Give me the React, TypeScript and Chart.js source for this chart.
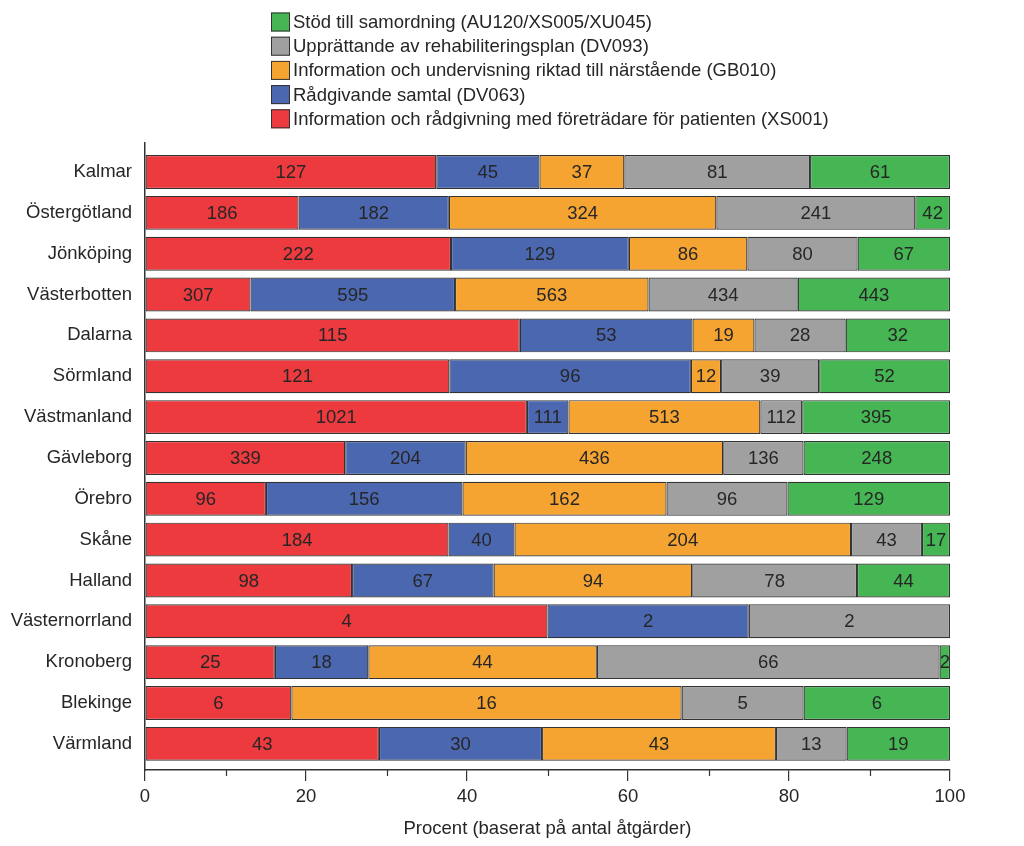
import React, { useEffect, useRef } from 'react';
import { Chart, registerables } from 'chart.js';

Chart.register(...registerables);

const regions = [
  'Kalmar', 'Östergötland', 'Jönköping', 'Västerbotten', 'Dalarna', 'Sörmland', 'Västmanland',
  'Gävleborg', 'Örebro', 'Skåne', 'Halland', 'Västernorrland', 'Kronoberg', 'Blekinge', 'Värmland',
];

const seriesNames = [
  'Information och rådgivning med företrädare för patienten (XS001)',
  'Rådgivande samtal (DV063)',
  'Information och undervisning riktad till närstående (GB010)',
  'Upprättande av rehabiliteringsplan (DV093)',
  'Stöd till samordning (AU120/XS005/XU045)',
];

const informationXS001 = [127, 186, 222, 307, 115, 121, 1021, 339, 96, 184, 98, 4, 25, 6, 43];
const radgivandeDV063 = [45, 182, 129, 595, 53, 96, 111, 204, 156, 40, 67, 2, 18, 0, 30];
const narstaendeGB010 = [37, 324, 86, 563, 19, 12, 513, 436, 162, 204, 94, 0, 44, 16, 43];
const rehabDV093 = [81, 241, 80, 434, 28, 39, 112, 136, 96, 43, 78, 2, 66, 5, 13];
const samordning = [61, 42, 67, 443, 32, 52, 395, 248, 129, 17, 44, 0, 2, 6, 19];

const xMajorTicks = [0, 20, 40, 60, 80, 100];
const xMinorTicks = [10, 30, 50, 70, 90];

const seriesCounts = [informationXS001, radgivandeDV063, narstaendeGB010, rehabDV093, samordning];
const seriesColors = ['#EC3A3E', '#4A67B0', '#F5A432', '#A0A0A0', '#45B653'];

const FONT = '"Liberation Sans", Arial, sans-serif';
const TEXT = '#262626';
const AXIS = '#333333';
const FS = 18.5;

export default function App() {
  const ref = useRef<HTMLCanvasElement | null>(null);

  useEffect(() => {
    document.body.style.margin = '0';
    const canvas = ref.current;
    if (!canvas) return;

    const totals = regions.map((_, i) => seriesCounts.reduce((s, arr) => s + arr[i], 0));

    const datasets = seriesCounts.map((counts, si) => ({
      label: seriesNames[si],
      data: counts.map((c, i) => ({ x: (c / totals[i]) * 100, y: i })),
      counts,
      backgroundColor: seriesColors[si],
      borderColor: AXIS,
      borderWidth: 1.2,
      borderSkipped: false,
      barPercentage: 0.83,
      categoryPercentage: 1,
    }));

    const labelPlugin = {
      id: 'segLabels',
      afterDatasetsDraw(chart: any) {
        const ctx = chart.ctx;
        ctx.save();
        ctx.font = `${FS}px ${FONT}`;
        ctx.fillStyle = TEXT;
        ctx.textAlign = 'center';
        ctx.textBaseline = 'middle';
        chart.data.datasets.forEach((ds: any, di: number) => {
          const meta = chart.getDatasetMeta(di);
          meta.data.forEach((el: any, i: number) => {
            const c = ds.counts[i];
            if (!c) return;
            const cx = (el.x + el.base) / 2;
            ctx.fillText(String(c), cx, el.y + 1);
          });
        });
        ctx.restore();
      },
    };

    const minorTickPlugin = {
      id: 'minorTicks',
      afterDraw(chart: any) {
        const ctx = chart.ctx;
        const xs = chart.scales.x;
        ctx.save();
        ctx.strokeStyle = AXIS;
        ctx.lineWidth = 1.2;
        xMinorTicks.forEach((v) => {
          const px = Math.round(xs.getPixelForValue(v)) + 0.5;
          ctx.beginPath();
          ctx.moveTo(px, xs.top);
          ctx.lineTo(px, xs.top + 6);
          ctx.stroke();
        });
        ctx.restore();
      },
    };

    const legendPlugin = {
      id: 'customLegend',
      afterDraw(chart: any) {
        const ctx = chart.ctx;
        ctx.save();
        ctx.font = `${FS}px ${FONT}`;
        ctx.textBaseline = 'middle';
        ctx.textAlign = 'left';
        const order = [4, 3, 2, 1, 0];
        order.forEach((si, row) => {
          const cy = 22 + row * 24.2;
          ctx.fillStyle = seriesColors[si];
          ctx.fillRect(271, cy - 9.5, 19, 19);
          ctx.strokeStyle = AXIS;
          ctx.lineWidth = 1;
          ctx.strokeRect(271.5, cy - 9, 18, 18);
          ctx.fillStyle = TEXT;
          ctx.fillText(seriesNames[si], 293, cy + 1);
        });
        ctx.restore();
      },
    };

    const chart = new Chart(canvas, {
      type: 'bar',
      data: { datasets: datasets as any },
      options: {
        indexAxis: 'y',
        animation: false,
        responsive: false,
        maintainAspectRatio: false,
        layout: { padding: { top: 143, right: 74, left: 0, bottom: 0 } },
        plugins: {
          legend: { display: false },
          tooltip: { enabled: false },
        },
        scales: {
          x: {
            type: 'linear',
            stacked: true,
            min: 0,
            max: 100,
            afterBuildTicks: (axis: any) => {
              axis.ticks = xMajorTicks.map((v) => ({ value: v }));
            },
            afterFit: (axis: any) => {
              axis.height = 76;
            },
            grid: {
              display: true,
              drawOnChartArea: false,
              drawTicks: true,
              tickLength: 11,
              color: AXIS,
              lineWidth: 1.2,
            },
            border: { display: true, color: AXIS, width: 1.5 },
            ticks: {
              color: TEXT,
              font: { family: FONT, size: FS },
              padding: 5,
              maxRotation: 0,
              autoSkip: false,
            },
            title: {
              display: true,
              text: 'Procent (baserat på antal åtgärder)',
              color: TEXT,
              font: { family: FONT, size: FS },
              padding: { top: 4, bottom: 6 },
            },
          },
          y: {
            type: 'linear',
            stacked: true,
            reverse: true,
            offset: false,
            min: -0.71,
            max: 14.64,
            afterBuildTicks: (axis: any) => {
              axis.ticks = regions.map((_, i) => ({ value: i }));
            },
            afterFit: (axis: any) => {
              axis.width = 145;
            },
            grid: { display: false, drawTicks: false },
            border: { display: true, color: AXIS, width: 1.5 },
            ticks: {
              color: TEXT,
              font: { family: FONT, size: FS },
              padding: 13,
              autoSkip: false,
              callback: (v: any) => regions[Number(v)] ?? '',
            },
          },
        },
      },
      plugins: [labelPlugin, minorTickPlugin, legendPlugin],
    });

    return () => chart.destroy();
  }, []);

  return (
    <div style={{ position: 'absolute', left: 0, top: 0, width: 1024, height: 846, background: '#ffffff' }}>
      <canvas ref={ref} width={1024} height={846} style={{ width: 1024, height: 846, display: 'block' }} />
    </div>
  );
}
